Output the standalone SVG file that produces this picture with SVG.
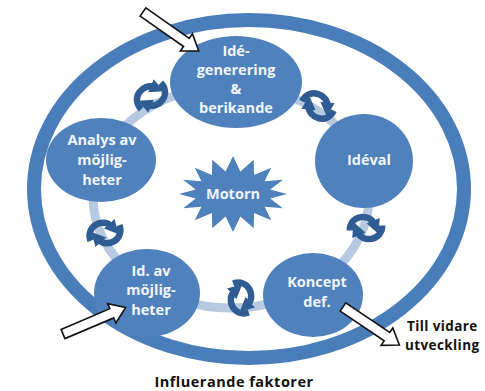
<svg xmlns="http://www.w3.org/2000/svg" width="485" height="391" viewBox="0 0 485 391">
<defs>
<style>
.node{fill:#4f81bd;}
.nt{font-family:"Open Sans","Liberation Sans",sans-serif;font-weight:bold;font-size:14.5px;fill:#f2f6fb;text-anchor:middle;}
.bt{font-family:"Open Sans","Liberation Sans",sans-serif;font-weight:bold;fill:#111;}
.cyc{fill:none;stroke:#2f5d93;stroke-width:5;marker-end:url(#ah);}
.blk{fill:#fff;stroke:#111;stroke-width:1.6;stroke-linejoin:miter;}
</style>
<marker id="ah" markerUnits="strokeWidth" markerWidth="2.2" markerHeight="2.2" refX="0.6" refY="1.1" orient="auto" viewBox="0 0 2.2 2.2">
<path d="M0,0 L2.2,1.1 L0,2.2 Z" fill="#2f5d93"/>
</marker>
<g id="cy">
<path class="cyc" d="M-12,4 C-14,-8 1,-12 6,-4"/>
<path class="cyc" d="M12,-4 C14,8 -1,12 -6,4"/>
</g>
<path id="ba" class="blk" d="M0,-5 L53,-5 L53,-10.5 L68,0 L53,10.5 L53,5 L0,5 Z"/>
</defs>
<rect width="485" height="391" fill="#fff"/>
<g id="outer-ring">
<ellipse cx="249" cy="189" rx="215" ry="169" fill="none" stroke="#4a7ebb" stroke-width="14"/>
</g>
<g id="connectors">
<ellipse cx="231" cy="197" rx="138" ry="111" fill="none" stroke="#b7c8e1" stroke-width="9"/>
<use href="#cy" transform="translate(151,96) rotate(-35) scale(1.3)"/>
<use href="#cy" transform="translate(318,106) rotate(35) scale(1.3)"/>
<use href="#cy" transform="translate(366,228) rotate(10) scale(1.3)"/>
<use href="#cy" transform="translate(241,298) rotate(80) scale(1.3)"/>
<use href="#cy" transform="translate(105,233) rotate(-10) scale(1.3)"/>
</g>
<g id="motorn">
<polygon class="node" points="287,194 270.3,198.5 282.9,208.2 264.6,206.8 271.2,220.2 254.1,213.1 253.7,228.2 240.4,216.6 233,232 225.6,216.6 212.3,228.2 211.9,213.1 194.8,220.2 201.4,206.8 183.1,208.2 195.7,198.5 179,194 195.7,189.5 183.1,179.8 201.4,181.2 194.8,167.8 211.9,174.9 212.3,159.8 225.6,171.4 233,156 240.4,171.4 253.7,159.8 254.1,174.9 271.2,167.8 264.6,181.2 282.9,179.8 270.3,189.5"/>
<text class="nt" x="233" y="199">Motorn</text>
</g>
<g id="n-idegenerering">
<ellipse class="node" cx="236" cy="82" rx="66" ry="46"/>
<text class="nt" x="236" y="56">Idé-</text>
<text class="nt" x="236" y="75">generering</text>
<text class="nt" x="236" y="94">&amp;</text>
<text class="nt" x="236" y="113">berikande</text>
</g>
<g id="n-analys">
<ellipse class="node" cx="101" cy="160" rx="55" ry="42"/>
<text class="nt" x="102" y="145">Analys av</text>
<text class="nt" x="102" y="165">möjlig-</text>
<text class="nt" x="102" y="185">heter</text>
</g>
<g id="n-ideval">
<ellipse class="node" cx="364" cy="161" rx="49" ry="47"/>
<text class="nt" x="369" y="165">Idéval</text>
</g>
<g id="n-idav">
<ellipse class="node" cx="147" cy="293" rx="53" ry="44"/>
<text class="nt" x="151" y="276">Id. av</text>
<text class="nt" x="151" y="295">möjlig-</text>
<text class="nt" x="151" y="315">heter</text>
</g>
<g id="n-koncept">
<ellipse class="node" cx="313" cy="295" rx="50" ry="42"/>
<text class="nt" x="317" y="287">Koncept</text>
<text class="nt" x="317" y="307">def.</text>
</g>
<g id="block-arrows">
<use href="#ba" transform="translate(143,12) rotate(35)"/>
<use href="#ba" transform="translate(63,334) rotate(-23)"/>
<use href="#ba" transform="translate(343,307) rotate(34)"/>
</g>
<g id="labels">
<text class="bt" x="407" y="331" font-size="13.5" font-weight="600" letter-spacing="0.4">Till vidare</text>
<text class="bt" x="405" y="350" font-size="13.5" font-weight="600" letter-spacing="0.4">utveckling</text>
<text class="bt" x="234" y="387" font-size="14.5" text-anchor="middle" letter-spacing="0.5">Influerande faktorer</text>
</g>
</svg>
